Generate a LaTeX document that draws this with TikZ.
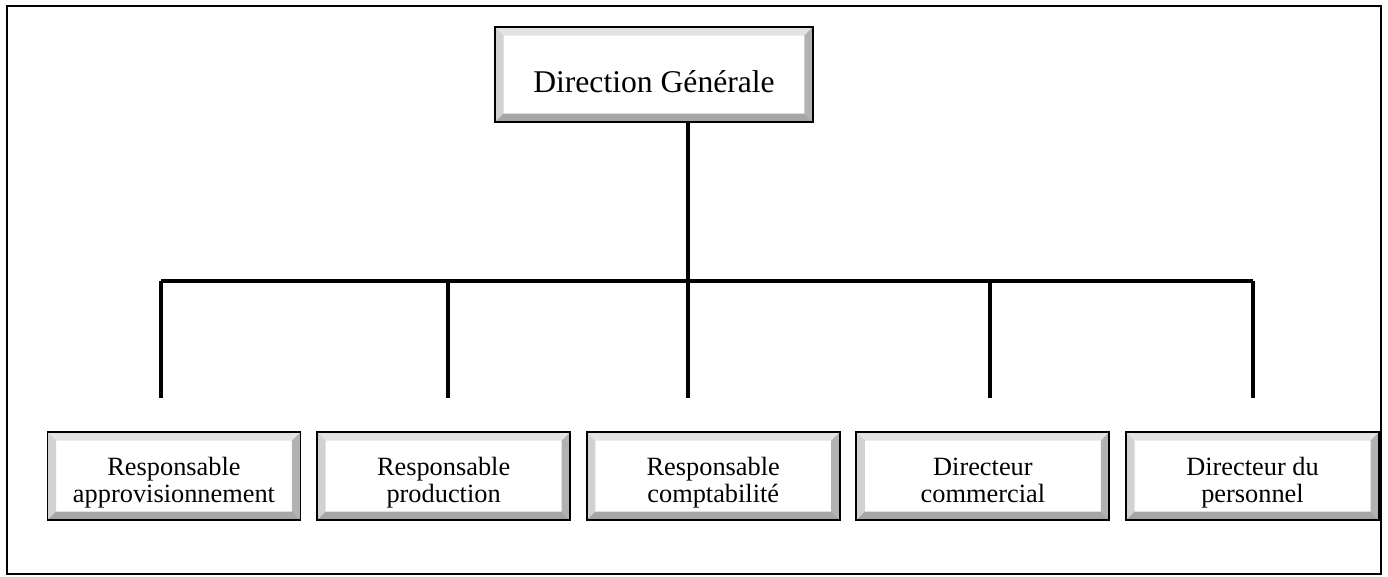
\documentclass[tikz,border=0pt]{standalone}
\usepackage{fontspec}
\setmainfont{Liberation Serif}
\usetikzlibrary{positioning}

% two centred lines with fixed height
\newcommand{\twolines}[2]{\begin{tabular}{@{}c@{}}\rule{0pt}{19pt}#1\\#2\rule[-4.5pt]{0pt}{0pt}\end{tabular}}

\begin{document}
\begin{tikzpicture}[
    x=0.02cm, y=-0.02cm,
    node distance=0.295cm,
    bevel/.style={rectangle, draw, line width=1.1pt, fill=white, inner sep=0pt,
      path picture={
        \fill[gray!22] (path picture bounding box.north west) -- (path picture bounding box.north east)
          -- ([shift={(-0.17cm,-0.17cm)}]path picture bounding box.north east) -- ([shift={(0.17cm,-0.17cm)}]path picture bounding box.north west) -- cycle;
        \fill[gray!35] (path picture bounding box.north west) -- ([shift={(0.17cm,-0.17cm)}]path picture bounding box.north west)
          -- ([shift={(0.17cm,0.17cm)}]path picture bounding box.south west) -- (path picture bounding box.south west) -- cycle;
        \fill[gray!60] (path picture bounding box.north east) -- ([shift={(-0.17cm,-0.17cm)}]path picture bounding box.north east)
          -- ([shift={(-0.17cm,0.17cm)}]path picture bounding box.south east) -- (path picture bounding box.south east) -- cycle;
        \fill[gray!70] (path picture bounding box.south west) -- ([shift={(0.17cm,0.17cm)}]path picture bounding box.south west)
          -- ([shift={(-0.17cm,0.17cm)}]path picture bounding box.south east) -- (path picture bounding box.south east) -- cycle;
      }},
    chief/.style={bevel, minimum width=6.36cm, minimum height=1.9cm, font=\fontsize{18}{21}\selectfont,
      execute at begin node={\rule{0pt}{22pt}}, execute at end node={\rule[-2pt]{0pt}{0pt}}},
    unit/.style={bevel, minimum width=5.06cm, minimum height=1.76cm, font=\fontsize{15}{15.4}\selectfont},
    link/.style={line width=2.3pt}
]
\useasboundingbox (0,0) rectangle (1388,576);
\draw[line width=1.1pt] (7,6) rectangle (1381,574);

% Direction
\node[chief] (dg) at (654,74.5) {Direction Générale};

% Services
\node[unit] (appro) at (174,476) {\twolines{Responsable}{approvisionnement}};
\node[unit, right=of appro] (prod) {\twolines{Responsable}{production}};
\node[unit, right=of prod] (compta) {\twolines{Responsable}{comptabilité}};
\node[unit, right=of compta] (comm) {\twolines{Directeur}{commercial}};
\node[unit, right=of comm] (perso) {\twolines{Directeur du}{personnel}};

% Bus
\coordinate (j0) at (688,281);
\coordinate (j1) at (161,281);
\coordinate (j2) at (448,281);
\coordinate (j3) at (990,281);
\coordinate (j4) at (1253,281);
\coordinate (e1) at (161,398);
\coordinate (e2) at (448,398);
\coordinate (e0) at (688,398);
\coordinate (e3) at (990,398);
\coordinate (e4) at (1253,398);

\draw[link] (dg.south -| j0) -- (j0);
\draw[link] (j1) -- (j4);
\draw[link] (j1) -- (e1);
\draw[link] (j2) -- (e2);
\draw[link] (j0) -- (e0);
\draw[link] (j3) -- (e3);
\draw[link] (j4) -- (e4);

\end{tikzpicture}
\end{document}
